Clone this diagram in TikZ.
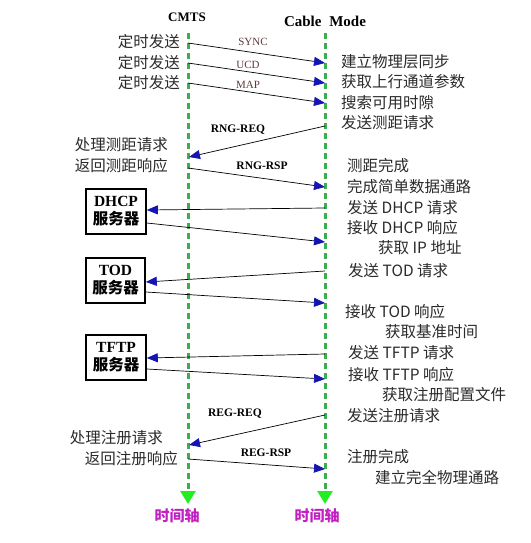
\documentclass[tikz,border=0pt]{standalone}
\usepackage{fontspec}
\setmainfont{Liberation Serif}
\newfontfamily\cjk{Noto Sans CJK SC}
\usetikzlibrary{arrows.meta}
\definecolor{txt}{HTML}{2A2A2A}
\definecolor{life}{HTML}{3CAE50}
\definecolor{tipgreen}{HTML}{22EE22}
\definecolor{ablue}{HTML}{1414B4}
\definecolor{msgred}{HTML}{603838}
\definecolor{axiscol}{HTML}{C020C0}
\begin{document}
\begin{tikzpicture}[x=1pt,y=-1pt,
  lifeline/.style={draw=life, line width=3pt, dash pattern=on 6pt off 4pt,
    -{Triangle[length=13pt,width=15pt,color=tipgreen]}},
  msg/.style={draw=black, line width=0.7pt, -{Triangle[length=11pt,width=9pt,color=ablue]}},
  ct/.style={font=\cjk\fontsize{15.5}{16}\selectfont, text=txt, inner sep=0pt},
  rl/.style={ct, anchor=west},
  ll/.style={ct, anchor=east},
  sl/.style={font=\fontsize{11}{11}\selectfont, text=msgred, inner sep=0pt},
  bl/.style={font=\bfseries\fontsize{11.5}{11.5}\selectfont, text=black, inner sep=0pt},
  srv/.style={draw=black, line width=1.6pt, minimum width=60pt, minimum height=45pt,
    align=center, inner sep=0pt, font=\bfseries\fontsize{15.5}{18}\selectfont},
  ttl/.style={font=\bfseries, inner sep=0pt},
  axl/.style={font=\cjk\bfseries\fontsize{15}{15}\selectfont, text=axiscol, inner sep=0pt}]
\useasboundingbox (0,0) rectangle (530,543);

% titles
\node[ttl, font=\bfseries\fontsize{13}{13}\selectfont] (tcmts) at (187,17) {CMTS};
\node[ttl, font=\bfseries\fontsize{15}{15}\selectfont] (tcm) at (325,21) {Cable\hspace{4pt} Mode};

% lifelines
\coordinate (cTop) at (188,33);
\coordinate (cBot) at (188,504);
\coordinate (mTop) at (325,33);
\coordinate (mBot) at (325,504);
\draw[lifeline] (cTop) -- (cBot);
\draw[lifeline] (mTop) -- (mBot);
\node[axl] (ax1) at (177,516) {时间轴};
\node[axl] (ax2) at (317,516) {时间轴};

% servers
\node[srv] (dhcp) at (116,211.5) {DHCP\\{\cjk\bfseries 服务器}};
\node[srv, minimum width=59pt] (tod) at (115.5,280.5) {TOD\\{\cjk\bfseries 服务器}};
\node[srv] (tftp) at (116,357.5) {TFTP\\{\cjk\bfseries 服务器}};

% left labels
\node[ll] (l1) at (180,42) {定时发送};
\node[ll] (l2) at (180,63) {定时发送};
\node[ll] (l3) at (180,83) {定时发送};
\node[ll] (l4) at (168,145) {处理测距请求};
\node[ll] (l5) at (168,166) {返回测距响应};
\node[ll] (l6) at (163,438) {处理注册请求};
\node[ll] (l7) at (178,459) {返回注册响应};

% right labels
\node[rl] (r1) at (341,62) {建立物理层同步};
\node[rl] (r2) at (341,82) {获取上行通道参数};
\node[rl] (r3) at (341,103) {搜索可用时隙};
\node[rl] (r4) at (341,123) {发送测距请求};
\node[rl] (r5) at (347,166) {测距完成};
\node[rl] (r6) at (347,187) {完成简单数据通路};
\node[rl] (r7) at (347,208) {发送 DHCP 请求};
\node[rl] (r8) at (347,228) {接收 DHCP 响应};
\node[rl] (r9) at (378,248) {获取 IP 地址};
\node[rl] (r10) at (348,271) {发送 TOD 请求};
\node[rl] (r11) at (345,312) {接收 TOD 响应};
\node[rl] (r12) at (385,332) {获取基准时间};
\node[rl] (r13) at (348,353) {发送 TFTP 请求};
\node[rl] (r14) at (348,375) {接收 TFTP 响应};
\node[rl] (r15) at (382,395) {获取注册配置文件};
\node[rl] (r16) at (347,416) {发送注册请求};
\node[rl] (r17) at (347,457) {注册完成};
\node[rl] (r18) at (375,478) {建立完全物理通路};

% message labels
\node[sl] (ms1) at (253,42) {SYNC};
\node[sl] (ms2) at (248,65) {UCD};
\node[sl] (ms3) at (248,85) {MAP};
\node[bl] (mb1) at (238,130) {RNG-REQ};
\node[bl] (mb2) at (262,166) {RNG-RSP};
\node[bl] (mb3) at (235,414) {REG-REQ};
\node[bl] (mb4) at (266,453) {REG-RSP};

% message end points
\coordinate (cS) at (188,43);  \coordinate (mS) at (325,63);
\coordinate (cU) at (188,63);  \coordinate (mU) at (325,83);
\coordinate (cM) at (188,83);  \coordinate (mM) at (325,103);
\coordinate (mRq) at (325,126); \coordinate (cRq) at (189,157);
\coordinate (cRs) at (188,168); \coordinate (mRs) at (325,187);
\coordinate (mD1) at (325,208); \coordinate (mD2) at (325,242);
\coordinate (mT1) at (325,271); \coordinate (mT2) at (325,303);
\coordinate (mF1) at (325,354); \coordinate (mF2) at (325,379);
\coordinate (mGq) at (325,415); \coordinate (cGq) at (189,445);
\coordinate (cGs) at (188,459); \coordinate (mGs) at (325,469);

% messages
\draw[msg] (cS) -- (mS);
\draw[msg] (cU) -- (mU);
\draw[msg] (cM) -- (mM);
\draw[msg] (mRq) -- (cRq);
\draw[msg] (cRs) -- (mRs);
\draw[msg] (mD1) -- ([yshift=1.5pt]dhcp.east);
\draw[msg] ([yshift=-11.5pt]dhcp.east) -- (mD2);
\draw[msg] (mT1) -- ([yshift=-1.5pt]tod.east);
\draw[msg] ([yshift=-11.5pt]tod.east) -- (mT2);
\draw[msg] (mF1) -- ([yshift=-0.5pt]tftp.east);
\draw[msg] ([yshift=-11.5pt]tftp.east) -- (mF2);
\draw[msg] (mGq) -- (cGq);
\draw[msg] (cGs) -- (mGs);
\end{tikzpicture}
\end{document}
